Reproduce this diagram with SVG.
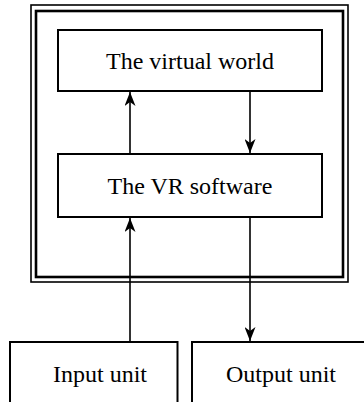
<svg xmlns="http://www.w3.org/2000/svg" width="364" height="402" viewBox="0 0 364 402">
  <style>
    .box { fill: #fff; stroke: #000; stroke-width: 2; }
    .lbl { font-family: "Liberation Serif", "Times New Roman", serif; font-size: 24px; fill: #000; text-anchor: middle; }
    .wire { stroke: #000; stroke-width: 1.6; fill: none; }
  </style>
  <defs>
    <marker id="arrow" viewBox="0 0 14 11" refX="14" refY="5.5" markerWidth="14" markerHeight="11" markerUnits="userSpaceOnUse" orient="auto">
      <path d="M0,0 L14,5.5 L0,11 L4,5.5 Z" fill="#000"/>
    </marker>
  </defs>
  <rect width="364" height="402" fill="#fff"/>

  <!-- system boundary: thin outer rule, heavier inner rule -->
  <g id="system-frame">
    <rect x="31" y="5" width="317" height="277" fill="none" stroke="#000" stroke-width="1.6"/>
    <rect x="36" y="11" width="307" height="266" fill="none" stroke="#000" stroke-width="2.6"/>
  </g>

  <g id="virtual-world">
    <rect class="box" x="58" y="30" width="264" height="61"/>
    <text class="lbl" x="190" y="69">The virtual world</text>
  </g>

  <g id="vr-software">
    <rect class="box" x="58" y="154" width="264" height="63"/>
    <text class="lbl" x="190" y="194">The VR software</text>
  </g>

  <g id="input-unit">
    <rect class="box" x="10" y="342" width="167.5" height="80"/>
    <text class="lbl" x="100" y="382">Input unit</text>
  </g>

  <g id="output-unit">
    <rect class="box" x="192" y="342" width="200" height="80"/>
    <text class="lbl" x="281" y="382">Output unit</text>
  </g>

  <g id="connectors">
    <line class="wire" x1="130" y1="153" x2="130" y2="92" marker-end="url(#arrow)"/>
    <line class="wire" x1="250" y1="92" x2="250" y2="153" marker-end="url(#arrow)"/>
    <line class="wire" x1="130" y1="341" x2="130" y2="218" marker-end="url(#arrow)"/>
    <line class="wire" x1="250" y1="218" x2="250" y2="341" marker-end="url(#arrow)"/>
  </g>
</svg>
